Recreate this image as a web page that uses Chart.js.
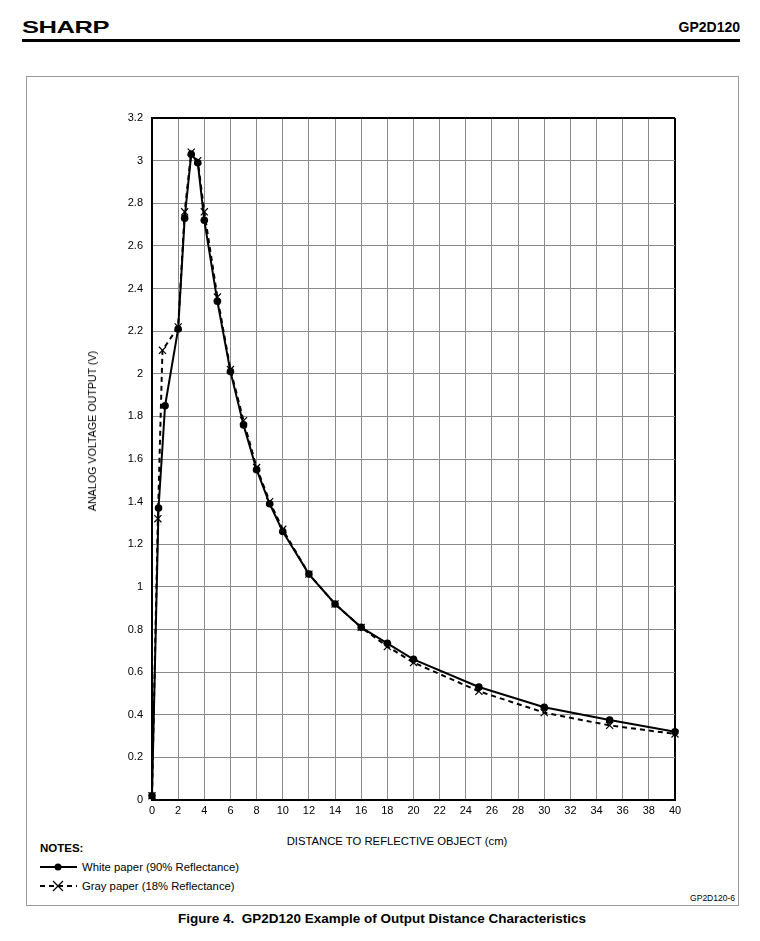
<!DOCTYPE html>
<html>
<head>
<meta charset="utf-8">
<script src="https://cdn.jsdelivr.net/npm/chart.js@4/dist/chart.umd.min.js"></script>
<style>
  body { margin: 0; background: #fff; font-family: "Liberation Sans", Arial, sans-serif; color: #000; }
  #page { position: relative; width: 760px; height: 941px; overflow: hidden; }
  .abs { position: absolute; white-space: nowrap; }
  #logo { left: 22px; top: 18px; font-size: 17px; font-weight: 900; transform: scaleX(1.5); transform-origin: left top; letter-spacing: -0.3px; }
  #part { right: 20px; top: 19px; font-size: 14px; font-weight: bold; }
  #rule { left: 22px; top: 39px; width: 718px; height: 3px; background: #000; }
  #frame { left: 26px; top: 76px; width: 711px; height: 828px; border: 1px solid #9a9a9a; }
  #chart { position: absolute; left: 60px; top: 90px; }
  #xtitle { left: 397px; top: 835px; font-size: 11.3px; transform: translateX(-50%); }
  #ytitle { left: 92px; top: 431px; font-size: 10.7px; transform: translate(-50%, -50%) rotate(-90deg); }
  #notes { left: 40px; top: 842px; font-size: 11.5px; font-weight: bold; }
  .leg { left: 40px; font-size: 11.3px; display: flex; align-items: center; }
  .leg svg { margin-right: 5px; }
  #figid { right: 25px; top: 893px; font-size: 8.5px; }
  #caption { left: 382px; top: 911px; font-size: 13.5px; font-weight: bold; transform: translateX(-50%); }
</style>
</head>
<body>
<div id="page">
  <div class="abs" id="logo">SHARP</div>
  <div class="abs" id="part">GP2D120</div>
  <div class="abs" id="rule"></div>
  <div class="abs" id="frame"></div>
  <canvas id="chart" width="660" height="740"></canvas>
  <div class="abs" id="xtitle">DISTANCE TO REFLECTIVE OBJECT (cm)</div>
  <div class="abs" id="ytitle">ANALOG VOLTAGE OUTPUT (V)</div>
  <div class="abs" id="notes">NOTES:</div>
  <div class="abs leg" style="top:861px">
    <svg width="37" height="10"><line x1="0" y1="5" x2="37" y2="5" stroke="#000" stroke-width="2"/><circle cx="18" cy="5" r="3.5" fill="#000"/></svg>
    White paper (90% Reflectance)
  </div>
  <div class="abs leg" style="top:880px">
    <svg width="37" height="12"><line x1="0" y1="6" x2="37" y2="6" stroke="#000" stroke-width="2" stroke-dasharray="5,4"/><path d="M13 1 L23 11 M23 1 L13 11" stroke="#000" stroke-width="1.3"/></svg>
    Gray paper (18% Reflectance)
  </div>
  <div class="abs" id="figid">GP2D120-6</div>
  <div class="abs" id="caption">Figure 4.&nbsp; GP2D120 Example of Output Distance Characteristics</div>
</div>

<script>
// distance (cm) and output voltage (V)
var whiteDist = [0, 0.5, 1, 2, 2.5, 3, 3.5, 4, 5, 6, 7, 8, 9, 10, 12, 14, 16, 18, 20, 25, 30, 35, 40];
var whiteVolt = [0.02, 1.37, 1.85, 2.21, 2.73, 3.03, 2.99, 2.72, 2.34, 2.01, 1.76, 1.55, 1.39, 1.26, 1.06, 0.92, 0.81, 0.735, 0.66, 0.53, 0.435, 0.375, 0.32];

var grayDist = [0, 0.45, 0.8, 2, 2.5, 3, 3.5, 4, 5, 6, 7, 8, 9, 10, 12, 14, 16, 18, 20, 25, 30, 35, 40];
var grayVolt = [0.02, 1.32, 2.11, 2.22, 2.76, 3.04, 3.0, 2.76, 2.36, 2.02, 1.78, 1.56, 1.40, 1.27, 1.06, 0.92, 0.81, 0.72, 0.645, 0.51, 0.41, 0.35, 0.31];

var xTicks = [0, 2, 4, 6, 8, 10, 12, 14, 16, 18, 20, 22, 24, 26, 28, 30, 32, 34, 36, 38, 40];
var yTicks = [0, 0.2, 0.4, 0.6, 0.8, 1, 1.2, 1.4, 1.6, 1.8, 2, 2.2, 2.4, 2.6, 2.8, 3, 3.2];
var yTickLabels = ['0', '0.2', '0.4', '0.6', '0.8', '1', '1.2', '1.4', '1.6', '1.8', '2', '2.2', '2.4', '2.6', '2.8', '3', '3.2'];

function toPoints(xs, ys) {
    var pts = [];
    for (var i = 0; i < xs.length; i++) {
        pts.push({x: xs[i], y: ys[i]});
    }
    return pts;
}

// outer frame lines (top / right) are dark, inner grid is grey
function gridColor(max) {
    return function (ctx) {
        return (ctx.tick && ctx.tick.value === max) ? '#000' : '#8a8a8a';
    };
}
function gridWidth(max) {
    return function (ctx) {
        return (ctx.tick && ctx.tick.value === max) ? 2 : 1;
    };
}

var tickFont = {family: '"Liberation Sans", Arial, sans-serif', size: 11};

var ctx = document.getElementById('chart').getContext('2d');
var chart = new Chart(ctx, {
    type: 'line',
    data: {
        datasets: [
            {
                label: 'White paper (90% Reflectance)',
                data: toPoints(whiteDist, whiteVolt),
                borderColor: '#000',
                backgroundColor: '#000',
                borderWidth: 2,
                pointStyle: 'circle',
                pointRadius: 3.8,
                pointBackgroundColor: '#000',
                pointBorderColor: '#000',
                pointBorderWidth: 0,
                tension: 0,
                clip: false,
                order: 1
            },
            {
                label: 'Gray paper (18% Reflectance)',
                data: toPoints(grayDist, grayVolt),
                borderColor: '#000',
                backgroundColor: 'transparent',
                borderWidth: 2,
                borderDash: [5, 4],
                pointStyle: 'crossRot',
                pointRadius: 5,
                pointBorderColor: '#000',
                pointBorderWidth: 1.2,
                tension: 0,
                clip: false,
                order: 2
            }
        ]
    },
    options: {
        responsive: false,
        animation: false,
        events: [],
        layout: {padding: {top: 28, right: 45, left: 0, bottom: 0}},
        plugins: {legend: {display: false}, tooltip: {enabled: false}},
        scales: {
            x: {
                type: 'linear',
                min: 0,
                max: 40,
                afterBuildTicks: function (scale) {
                    scale.ticks = xTicks.map(function (v) { return {value: v}; });
                },
                afterFit: function (scale) { scale.height = 30; },
                ticks: {color: '#000', font: tickFont, padding: 4, maxRotation: 0, autoSkip: false,
                    callback: function (v) { return String(v); }},
                grid: {color: gridColor(40), lineWidth: gridWidth(40), drawTicks: false},
                border: {color: '#000', width: 2}
            },
            y: {
                type: 'linear',
                min: 0,
                max: 3.2,
                afterBuildTicks: function (scale) {
                    scale.ticks = yTicks.map(function (v) { return {value: v}; });
                },
                afterFit: function (scale) { scale.width = 92; },
                ticks: {color: '#000', font: tickFont, padding: 9, autoSkip: false,
                    callback: function (v, i) { return yTickLabels[i]; }},
                grid: {color: gridColor(3.2), lineWidth: gridWidth(3.2), drawTicks: false},
                border: {color: '#000', width: 2}
            }
        }
    }
});
</script>
</body>
</html>
